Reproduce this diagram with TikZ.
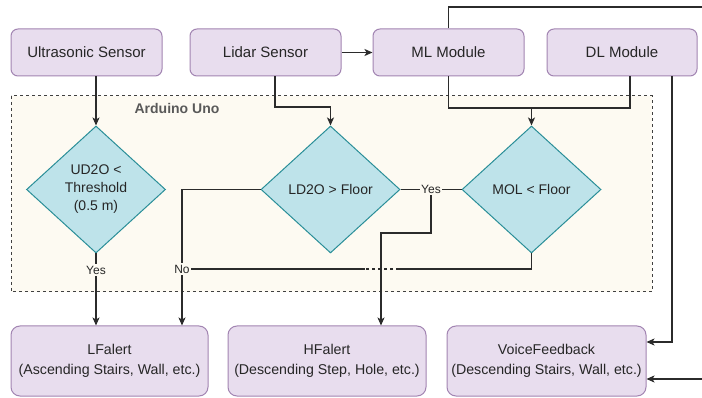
\documentclass[tikz,border=0pt]{standalone}
\usepackage{fontspec}
\setmainfont{Liberation Sans}
\usetikzlibrary{shapes.geometric,arrows.meta,calc}

\definecolor{boxfill}{HTML}{E8DDEE}
\definecolor{boxline}{HTML}{A285B2}
\definecolor{dfill}{HTML}{BEE3EA}
\definecolor{dline}{HTML}{2A8E98}
\definecolor{panel}{HTML}{FDFAF2}
\definecolor{ink}{HTML}{262626}
\definecolor{wire}{HTML}{2B2B2B}

\tikzset{
  x=1pt, y=-1pt,
  every node/.style={text=ink},
  topbox/.style={draw=boxline, fill=boxfill, line width=1pt, rounded corners=7pt,
    minimum width=151pt, minimum height=47pt, inner sep=0pt,
    font=\fontsize{15}{18}\selectfont},
  alertbox/.style={draw=boxline, fill=boxfill, line width=1pt, rounded corners=9pt,
    minimum height=70pt, inner sep=0pt, align=center,
    font=\fontsize{14.2}{19.5}\selectfont},
  decision/.style={shape=diamond, draw=dline, fill=dfill, line width=1pt,
    minimum width=139pt, minimum height=127pt, inner sep=0pt, align=center,
    font=\fontsize{14}{18}\selectfont},
  wireline/.style={draw=wire, line width=1.1pt},
  arr/.style={wireline, -{Stealth[length=8pt,width=7pt,inset=2pt]}},
  answer/.style={fill=panel, inner sep=1.5pt, font=\fontsize{12}{14}\selectfont},
}

\begin{document}
\begin{tikzpicture}
\clip (0,0) rectangle (702,398);
\fill[white] (0,0) rectangle (702,398);

% Arduino Uno panel
\draw[fill=panel, draw=wire!90, line width=1pt, dash pattern=on 3pt off 3pt]
  (11,96) rectangle (652,292);
\node[font=\fontsize{14}{16}\selectfont\bfseries, text=black!65] (uno) at (177,108) {Arduino Uno};

% input and processing blocks
\node[topbox] (us)    at (86.5,52.5)  {Ultrasonic Sensor};
\node[topbox] (lidar) at (265.5,52.5) {Lidar Sensor};
\node[topbox] (ml)    at (448.5,52.5) {ML Module};
\node[topbox, minimum width=150pt] (dl) at (622,52.5) {DL Module};

% decisions
\node[decision] (d1) at (96,189.5)  {UD2O <\\Threshold\\(0.5 m)};
\node[decision] (d2) at (330.5,189.5) {LD2O > Floor};
\node[decision] (d3) at (531.5,189.5) {MOL < Floor};

% alerts
\node[alertbox, minimum width=197pt] (lf) at (109.5,361) {LFalert\\(Ascending Stairs, Wall, etc.)};
\node[alertbox, minimum width=198pt] (hf) at (327,361)   {HFalert\\(Descending Step, Hole, etc.)};
\node[alertbox, minimum width=199pt] (vf) at (546.5,361) {VoiceFeedback\\(Descending Stairs, Wall, etc.)};

% bend points
\coordinate (lbend) at (0,107);
\coordinate (dlj)   at (630,108);
\coordinate (ytop)  at (0,7);
\coordinate (far)   at (716,0);
\coordinate (nojoin) at (182,269);
\coordinate (gapR) at (399,269);
\coordinate (gapL) at (365,269);
\coordinate (yesturn) at (0,233);
\coordinate (yj) at (431,189.5);

% sensors into the decisions
\draw[arr] (d1.north |- us.south) -- (d1.north);
\draw[arr] ([xshift=9.5pt]lidar.south) |- (d2.north |- lbend) -- (d2.north);
\draw[arr] (lidar.east) -- (ml.west);

% modules into the MOL check
\draw[wireline] (ml.south) |- (dlj) -- (dlj |- dl.south);
\draw[arr] (d3.north |- dlj) -- (d3.north);

% modules to voice feedback
\draw[arr] (ml.north) |- (far |- ytop) |- ([yshift=-18pt]vf.east);
\draw[arr] ([xshift=50pt]dl.south) |- ([yshift=19pt]vf.east);

% ultrasonic yes branch
\draw[arr] (d1.south) -- (d1.south |- lf.north);

% lidar no branch
\draw[arr] (d2.west) -| ([xshift=72.5pt]lf.north);

% MOL no branch, with a gap where it crosses the yes line
\draw[wireline] (d3.south) |- (gapR);
\draw[wireline, dash pattern=on 3pt off 3pt] (gapR) -- (gapL);
\draw[wireline] (gapL) -- (nojoin);

% lidar yes into MOL check, then down to HFalert
\draw[wireline] (d2.east) -- (d3.west);
\draw[arr] (yj) |- ([xshift=54pt]hf.north |- yesturn) -- ([xshift=54pt]hf.north);

% branch labels
\node[answer] (yes1) at (96,270) {Yes};
\node[answer] (no1) at (nojoin) {No};
\node[answer] (yes2) at (yj) {Yes};
\end{tikzpicture}
\end{document}
